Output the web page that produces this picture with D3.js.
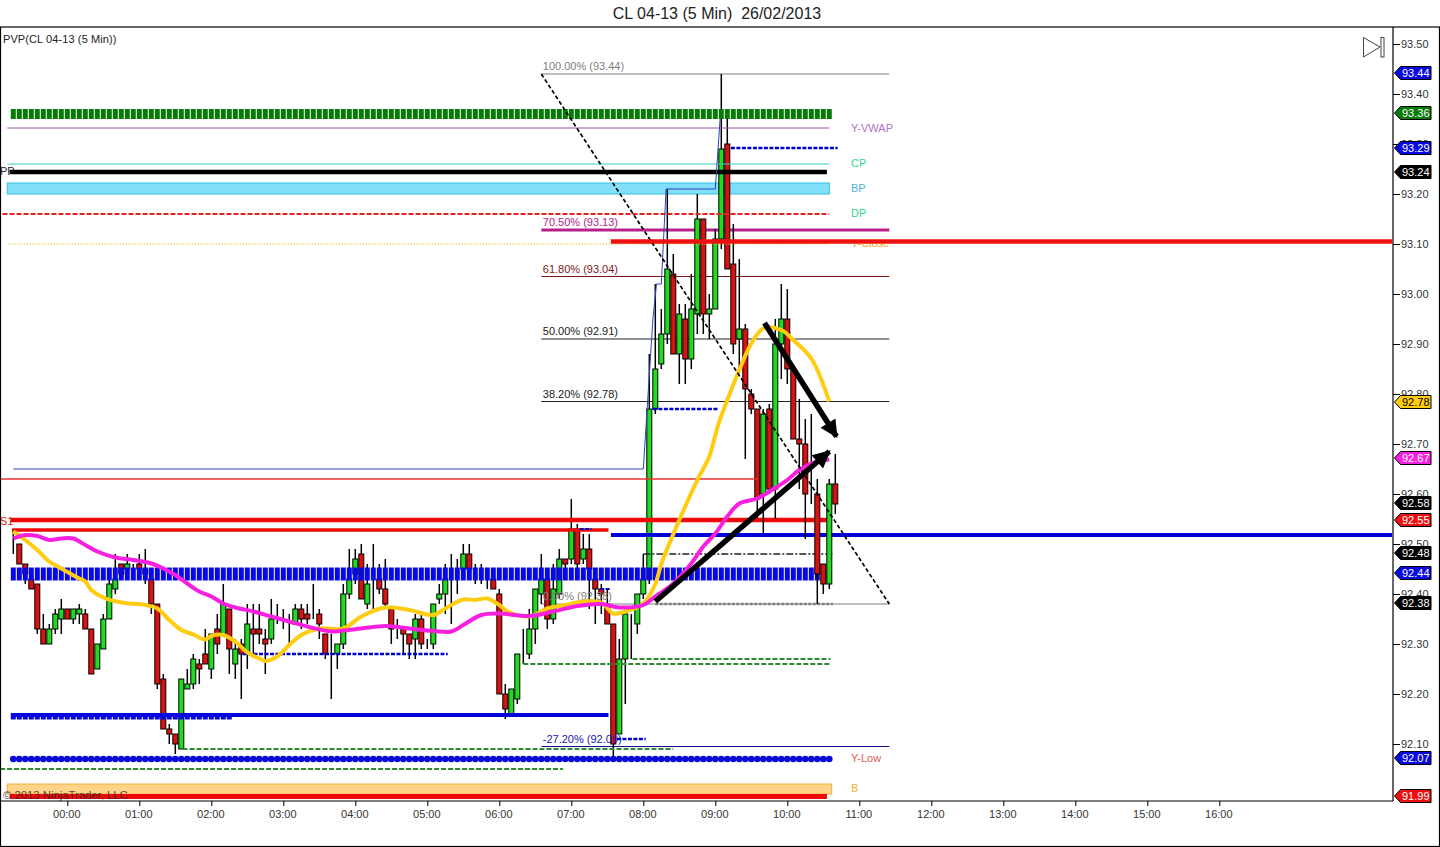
<!DOCTYPE html>
<html>
<head>
<meta charset="UTF-8">
<title>CL 04-13 (5 Min)</title>
<script src="https://d3js.org/d3.v7.min.js"></script>
<style>
  html, body { margin: 0; padding: 0; background: #fff; overflow: hidden; }
  svg { display: block; }
  text { font-family: "Liberation Sans", Arial, sans-serif; font-size: 11px; }
  .axis text { fill: #333; font-size: 11px; }
  .axis line { stroke: #000; }
  .axis path { display: none; }
</style>
</head>
<body>
<svg width="1440" height="847"></svg>
<script>
// one value per 5 min bar, first bar is 23:15
var firstBar = -45;
var barOpen = [92.51,92.50,92.46,92.43,92.42,92.33,92.30,92.33,92.35,92.37,
  92.35,92.36,92.36,92.33,92.25,92.29,92.35,92.41,92.46,92.45,
  92.45,92.46,92.45,92.43,92.38,92.23,92.13,92.12,92.09,92.21,
  92.22,92.26,92.28,92.25,92.33,92.32,92.37,92.26,92.30,92.28,
  92.33,92.33,92.31,92.31,92.36,92.35,92.33,92.34,92.37,92.36,
  92.37,92.36,92.32,92.31,92.28,92.30,92.40,92.44,92.48,92.38,
  92.44,92.43,92.41,92.37,92.32,92.33,92.32,92.31,92.35,92.31,
  92.30,92.39,92.40,92.42,92.44,92.45,92.48,92.44,92.44,92.43,
  92.43,92.40,92.20,92.16,92.19,92.28,92.28,92.33,92.40,92.43,
  92.35,92.40,92.47,92.47,92.53,92.47,92.49,92.43,92.41,92.38,
  92.34,92.12,92.27,92.35,92.34,92.40,92.43,92.77,92.86,92.92,
  93.04,92.88,92.95,92.87,92.96,93.15,92.96,92.97,93.11,93.30,
  93.06,92.91,92.93,92.80,92.77,92.60,92.77,92.61,92.90,92.95,
  92.85,92.71,92.70,92.63,92.60,92.46,92.42,92.62];
var barHigh = [92.53,92.50,92.46,92.44,92.42,92.36,92.34,92.37,92.39,92.37,
  92.37,92.38,92.37,92.33,92.30,92.36,92.43,92.48,92.46,92.48,
  92.46,92.48,92.49,92.43,92.38,92.24,92.14,92.12,92.23,92.25,
  92.28,92.27,92.33,92.32,92.36,92.42,92.37,92.31,92.31,92.38,
  92.38,92.38,92.33,92.39,92.38,92.37,92.36,92.38,92.38,92.38,
  92.42,92.37,92.32,92.32,92.30,92.42,92.49,92.49,92.50,92.46,
  92.50,92.46,92.47,92.37,92.35,92.33,92.32,92.36,92.36,92.31,
  92.38,92.42,92.46,92.48,92.47,92.50,92.50,92.46,92.46,92.45,
  92.45,92.41,92.22,92.21,92.28,92.33,92.37,92.41,92.48,92.43,
  92.46,92.49,92.47,92.59,92.54,92.52,92.52,92.44,92.42,92.41,
  92.34,92.31,92.36,92.36,92.40,92.48,92.88,93.02,92.97,93.21,
  93.08,92.98,92.98,93.04,93.20,93.15,93.00,93.13,93.44,93.35,
  93.14,93.07,92.94,92.81,92.77,92.77,92.78,92.95,93.02,93.01,
  92.86,92.79,92.75,92.76,92.63,92.46,92.63,92.68];
var barLow = [92.48,92.46,92.42,92.41,92.32,92.30,92.30,92.32,92.32,92.35,
  92.34,92.34,92.33,92.24,92.25,92.29,92.35,92.40,92.43,92.44,
  92.44,92.44,92.42,92.36,92.21,92.13,92.10,92.08,92.09,92.21,
  92.21,92.22,92.26,92.23,92.28,92.32,92.24,92.23,92.19,92.25,
  92.28,92.30,92.24,92.30,92.34,92.33,92.30,92.34,92.33,92.34,
  92.35,92.31,92.27,92.19,92.25,92.29,92.39,92.42,92.39,92.37,
  92.37,92.40,92.37,92.30,92.31,92.28,92.27,92.27,92.29,92.29,
  92.29,92.38,92.36,92.34,92.40,92.44,92.44,92.42,92.42,92.41,
  92.41,92.20,92.15,92.16,92.18,92.26,92.27,92.30,92.38,92.33,
  92.34,92.39,92.45,92.46,92.45,92.46,92.37,92.34,92.36,92.34,
  92.07,92.12,92.18,92.27,92.32,92.39,92.42,92.76,92.85,92.90,
  92.88,92.82,92.82,92.85,92.92,92.92,92.91,92.97,93.09,93.05,
  92.88,92.84,92.67,92.76,92.55,92.52,92.60,92.55,92.83,92.82,
  92.71,92.61,92.51,92.58,92.38,92.40,92.41,92.56];
var barClose = [92.51,92.46,92.44,92.41,92.33,92.30,92.33,92.36,92.37,92.35,
  92.37,92.37,92.33,92.24,92.30,92.35,92.42,92.43,92.44,92.46,
  92.45,92.45,92.44,92.38,92.22,92.13,92.12,92.10,92.23,92.22,
  92.27,92.25,92.26,92.32,92.30,92.38,92.29,92.29,92.28,92.34,
  92.32,92.32,92.30,92.35,92.36,92.35,92.33,92.37,92.35,92.35,
  92.37,92.34,92.28,92.31,92.30,92.40,92.43,92.47,92.39,92.42,
  92.44,92.41,92.38,92.33,92.32,92.32,92.30,92.35,92.30,92.31,
  92.38,92.40,92.43,92.42,92.44,92.48,92.45,92.44,92.44,92.43,
  92.41,92.20,92.17,92.21,92.28,92.28,92.33,92.41,92.43,92.35,
  92.41,92.47,92.46,92.53,92.46,92.49,92.45,92.41,92.40,92.34,
  92.10,92.27,92.36,92.35,92.40,92.43,92.77,92.85,92.92,93.05,
  92.88,92.96,92.87,92.97,93.15,92.96,92.97,93.11,93.29,93.05,
  92.90,92.93,92.81,92.77,92.59,92.76,92.61,92.90,92.95,92.85,
  92.71,92.70,92.60,92.63,92.44,92.42,92.62,92.58];

var yellowTimes = [-45,-35,-25,-15,-5,10,15,20,30,45,65,75,85,95,105,115,120,130,140,150,160,165,175,185,195,210,230,245,265,285,305,315,330,340,350,360,367,385,400,415,430,445,455,465,480,490,495,510,525,535,542,550,560,570,580,595,605,620,635];
var yellowPrices = [92.525,92.508,92.488,92.465,92.451,92.431,92.425,92.408,92.393,92.383,92.378,92.371,92.348,92.328,92.319,92.309,92.316,92.318,92.305,92.283,92.271,92.266,92.275,92.298,92.318,92.331,92.331,92.355,92.373,92.368,92.358,92.371,92.389,92.388,92.391,92.378,92.365,92.355,92.371,92.378,92.385,92.383,92.361,92.365,92.381,92.42,92.46,92.548,92.628,92.675,92.735,92.788,92.848,92.901,92.931,92.928,92.908,92.871,92.785];
var magentaTimes = [-45,-35,-25,-15,-5,5,15,25,40,55,70,80,90,100,110,120,130,140,155,170,185,200,220,230,245,265,285,305,320,330,345,360,385,405,425,445,460,480,490,505,520,530,540,550,560,575,585,600,610,625,635];
var magentaPrices = [92.511,92.518,92.516,92.508,92.511,92.511,92.498,92.485,92.473,92.468,92.461,92.451,92.438,92.421,92.405,92.395,92.381,92.373,92.365,92.355,92.345,92.335,92.325,92.327,92.331,92.336,92.331,92.326,92.325,92.338,92.358,92.361,92.356,92.365,92.376,92.38,92.373,92.378,92.395,92.421,92.461,92.495,92.521,92.555,92.581,92.591,92.605,92.628,92.648,92.665,92.669];

// horizontal levels: name, price, start and end minute
var levelNames = ["yVwap","dash9329","cp","pp","dp","yClose","redClose","redThin","s1","s1b","blue9252","dash9253","dash9241","chain","dots0","dash9277","dash9228","green9227","green9226","dash9211","blue9216","green9209","green9205","red9199"];
var levelPrices = [93.332,93.292,93.26,93.244,93.16,93.10,93.105,92.63,92.548,92.528,92.518,92.53,92.41,92.48,92.38,92.77,92.28,92.27,92.26,92.11,92.158,92.09,92.05,91.995];
var levelStart = [-50,553,-50,-48,-54,-49,453,-56,-47,-46,453,427,444,480,490,488,146,471,380,458,-47,96,-56,-48];
var levelEnd = [635,642,635,633,635,636,1104,575,633,451,1104,437,452,638,638,542,317,636,636,482,451,505,413,633];

// shaded bands: top price, bottom price
var bandNames = ["BP","B"];
var bandTop = [93.222,92.02];
var bandBottom = [93.20,92.00];
var bandStart = [-50,-50];
var bandEnd = [635,637];

// fibonacci retracement
var fibNames = ["100.00% (93.44)","70.50% (93.13)","61.80% (93.04)","50.00% (92.91)","38.20% (92.78)","0.00% (92.38)","-27.20% (92.09)"];
var fibPrices = [93.44,93.128,93.035,92.91,92.785,92.38,92.095];
var fibStart = 395, fibEnd = 685;

// right side text labels
var sideNames = ["Y-VWAP","CP","BP","DP","Y-Close","Y-Low","B"];
var sidePrices = [93.332,93.262,93.212,93.162,93.102,92.072,92.012];

// price markers on the axis
var markerLabels = ["93.44","93.36","93.29","93.24","92.78","92.67","92.58","92.55","92.48","92.44","92.38","92.07","91.99"];
var markerPrices = [93.442,93.362,93.292,93.244,92.784,92.672,92.582,92.548,92.482,92.442,92.382,92.072,91.996];
var priceTicks = [93.5,93.4,93.3,93.2,93.1,93.0,92.9,92.8,92.7,92.6,92.5,92.4,92.3,92.2,92.1];
var timeTicks = [0,60,120,180,240,300,360,420,480,540,600,660,720,780,840,900,960];

// drawn by hand on the chart: time, price
var trendTimes = [395,685], trendPrices = [93.44,92.38];
var arrowUpTimes = [490,635], arrowUpPrices = [92.385,92.685];
var arrowDownTimes = [581,641], arrowDownPrices = [92.942,92.715];
var stepTimes = [-45,480,488,491,495,499,540,544], stepPrices = [92.65,92.65,92.95,93.02,93.02,93.21,93.21,93.35];

var x = d3.scaleLinear().domain([0,960]).range([67.3,1219.3]);
var y = d3.scaleLinear().domain([93.5,91.986]).range([44,801]);

var svg = d3.select("svg");
var plot = svg.append("g");

var bars = barOpen.map(function(o,i){
  return {t:firstBar+i*5, o:o, h:barHigh[i], l:barLow[i], c:barClose[i]};
});

// frame
svg.append("rect").attr("x",0.5).attr("y",27).attr("width",1439).attr("height",819.5)
  .attr("fill","none").attr("stroke","#000").attr("stroke-width",1.2);
svg.append("line").attr("x1",1393).attr("x2",1393).attr("y1",27).attr("y2",801).attr("stroke","#000").attr("stroke-width",1.2);
svg.append("line").attr("x1",0).attr("x2",1393).attr("y1",801).attr("y2",801).attr("stroke","#000").attr("stroke-width",1.2);

// axes
var yAxis = d3.axisRight(y).tickValues(priceTicks).tickSize(7).tickPadding(1).tickFormat(d3.format(".2f"));
svg.append("g").classed("axis",true).attr("transform","translate(1393,0)").call(yAxis);
var xAxis = d3.axisBottom(x).tickValues(timeTicks).tickSize(5).tickPadding(4).tickFormat(function(d){
  return d3.format("02")(d/60)+":00";
});
var xAxisG = svg.append("g").classed("axis",true).attr("transform","translate(0,801)").call(xAxis);
xAxisG.selectAll("text").attr("dx",-1);

// bands go under the candles
var bandFill = {BP:"#80e0fc", B:"#ffd488"};
var bandLine = {BP:"#30c4dc", B:"#f0b040"};
plot.selectAll("rect.band").data(bandNames).enter().append("rect")
  .classed("band",true)
  .attr("x",function(d,i){return x(bandStart[i]);})
  .attr("width",function(d,i){return x(bandEnd[i])-x(bandStart[i]);})
  .attr("y",function(d,i){return y(bandTop[i]);})
  .attr("height",function(d,i){return y(bandBottom[i])-y(bandTop[i]);})
  .attr("fill",function(d){return bandFill[d];})
  .attr("stroke",function(d){return bandLine[d];});

// fib lines under the candles as well
var fibColors = ["#808080","#b8208a","#801818","#222","#222","#808080","#101080"];
var fibWidths = [1,3,1,1,1,1,1];
plot.selectAll("line.fib").data(fibNames).enter().append("line")
  .classed("fib",true)
  .attr("x1",x(fibStart)).attr("x2",x(fibEnd))
  .attr("y1",function(d,i){return y(fibPrices[i]);})
  .attr("y2",function(d,i){return y(fibPrices[i]);})
  .attr("stroke",function(d,i){return fibColors[i];})
  .attr("stroke-width",function(d,i){return fibWidths[i];});

var drawCandles = function(list){
  var candle = plot.append("g").selectAll("g").data(list).enter().append("g");
  candle.append("line")
    .attr("x1",function(d){return x(d.t);}).attr("x2",function(d){return x(d.t);})
    .attr("y1",function(d){return y(d.h);}).attr("y2",function(d){return y(d.l);})
    .attr("stroke","#000").attr("stroke-width",1.5);
  candle.append("rect")
    .attr("x",function(d){return x(d.t)-2.5;})
    .attr("width",5)
    .attr("y",function(d){return y(Math.max(d.o,d.c));})
    .attr("height",function(d){return Math.abs(y(d.o)-y(d.c));})
    .attr("fill",function(d){return d.c>=d.o ? "#1fdc1f" : "#dc1010";})
    .attr("stroke","#000").attr("stroke-width",1);
};
drawCandles(bars.filter(function(d){return d.t<580;}));

// fib labels sit over the candles
var fibTextColors = ["#808080","#b8208a","#801818","#222","#222","#808080","#2020b0"];
plot.selectAll("text.fib").data(fibNames).enter().append("text")
  .classed("fib",true)
  .attr("x",x(fibStart)+1.5)
  .attr("y",function(d,i){return y(fibPrices[i])-4;})
  .attr("fill",function(d,i){return fibTextColors[i];})
  .text(function(d){return d;});

// thin levels and heavy levels
var levelStyles = {
  yVwap:{c:"#a050b0",w:1}, dash9329:{c:"#0000cc",w:2.5,d:"4,1.5"}, cp:{c:"#30d0c0",w:1},
  pp:{c:"#000",w:4.5}, dp:{c:"#e82020",w:2,d:"5,2"}, yClose:{c:"#e8d020",w:1,d:"1.5,1.5"},
  redClose:{c:"#ee1010",w:4}, redThin:{c:"#e83030",w:1.5}, s1:{c:"#ee0808",w:4.5}, s1b:{c:"#ee0808",w:3.5},
  blue9252:{c:"#0000d8",w:4}, dash9253:{c:"#0000cc",w:2,d:"4,1.5"}, dash9241:{c:"#0000cc",w:2,d:"4,1.5"},
  chain:{c:"#222",w:1.7,d:"7,2,2,2"}, dots0:{c:"#808080",w:2.5,d:"3,1.5"}, dash9277:{c:"#0000cc",w:2.5,d:"4,1.5"},
  dash9228:{c:"#0000cc",w:2.5,d:"4,1.5"}, green9227:{c:"#2f8a2f",w:2,d:"5,2"}, green9226:{c:"#2f8a2f",w:2,d:"5,2"},
  dash9211:{c:"#0000cc",w:2.5,d:"4,1.5"}, blue9216:{c:"#0000d8",w:4}, green9209:{c:"#2f8a2f",w:2,d:"5,2"},
  green9205:{c:"#2f8a2f",w:2,d:"5,2"}, red9199:{c:"#ee0808",w:5}
};
plot.selectAll("line.level").data(levelNames).enter().append("line")
  .classed("level",true)
  .attr("x1",function(d,i){return x(levelStart[i]);})
  .attr("x2",function(d,i){return x(levelEnd[i]);})
  .attr("y1",function(d,i){return y(levelPrices[i]);})
  .attr("y2",function(d,i){return y(levelPrices[i]);})
  .attr("stroke",function(d){return levelStyles[d].c;})
  .attr("stroke-width",function(d){return levelStyles[d].w;})
  .attr("stroke-dasharray",function(d){return levelStyles[d].d || null;});

// rows of blocks, one per bar
var blockBars = bars.filter(function(d){return d.t<640;});
var drawBlocks = function(list,price,h,color){
  plot.append("g").selectAll("rect").data(list).enter().append("rect")
    .attr("x",function(d){return x(d.t)-2.5;})
    .attr("width",5)
    .attr("y",y(price)-h/2)
    .attr("height",h)
    .attr("fill",color);
};
drawBlocks(blockBars,93.36,10,"#087a08");
drawBlocks(blockBars,92.44,13,"#0808e8");
drawBlocks(bars.filter(function(d){return d.t<=135;}),92.155,6,"#0808e0");

plot.append("g").selectAll("circle").data(blockBars).enter().append("circle")
  .attr("cx",function(d){return x(d.t);})
  .attr("cy",y(92.07))
  .attr("r",3.3)
  .attr("fill","#0808d8");

drawCandles(bars.filter(function(d){return d.t>=580;}));

// thin stepped line
var line = d3.line().x(function(d){return x(d[0]);}).y(function(d){return y(d[1]);});
plot.append("path").attr("d",line(d3.zip(stepTimes,stepPrices)))
  .attr("fill","none").attr("stroke","#3040c0").attr("stroke-width",1);

// moving averages
var curve = d3.line().x(function(d){return x(d[0]);}).y(function(d){return y(d[1]);}).curve(d3.curveCatmullRom.alpha(0.5));
plot.append("path").attr("d",curve(d3.zip(yellowTimes,yellowPrices)))
  .attr("fill","none").attr("stroke","#ffcc10").attr("stroke-width",4);
plot.append("path").attr("d",curve(d3.zip(magentaTimes,magentaPrices)))
  .attr("fill","none").attr("stroke","#f820e0").attr("stroke-width",4);

// trend line and arrows
plot.append("path").attr("d",line(d3.zip(trendTimes,trendPrices)))
  .attr("fill","none").attr("stroke","#000").attr("stroke-width",1.7).attr("stroke-dasharray","4,2.5");

svg.append("defs").append("marker").attr("id","head")
  .attr("viewBox","0 0 10 10").attr("refX",9).attr("refY",5)
  .attr("markerWidth",3.6).attr("markerHeight",3.2).attr("orient","auto")
  .append("path").attr("d","M0,0L10,5L0,10z").attr("fill","#000");
[[arrowUpTimes,arrowUpPrices],[arrowDownTimes,arrowDownPrices]].forEach(function(a){
  plot.append("path").attr("d",line(d3.zip(a[0],a[1])))
    .attr("fill","none").attr("stroke","#000").attr("stroke-width",5.5)
    .attr("marker-end","url(#head)");
});

// side labels
var sideColors = ["#b070c8","#30d890","#50b0e0","#30d890","#f0a020","#e06050","#f0b040"];
svg.selectAll("text.side").data(sideNames).enter().append("text")
  .classed("side",true)
  .attr("x",851)
  .attr("y",function(d,i){return y(sidePrices[i])+4;})
  .attr("fill",function(d,i){return sideColors[i];})
  .text(function(d){return d;});
// Y-Close sits under the red line
svg.append("line").attr("x1",x(453)).attr("x2",x(1104)).attr("y1",y(93.105)).attr("y2",y(93.105))
  .attr("stroke","#ee1010").attr("stroke-width",4);

svg.append("text").attr("x",0).attr("y",175).attr("fill","#222").text("PP");
svg.append("text").attr("x",0).attr("y",525).attr("fill","#d82020").text("S1");

// price markers
var markerFill = ["#0808e0","#087a08","#0808e0","#000","#ffcc10","#f820e0","#000","#ee1010","#000","#0808e0","#000","#0808e0","#ee1010"];
var marker = svg.append("g").selectAll("g").data(markerPrices).enter().append("g")
  .attr("transform",function(d){return "translate(1394,"+y(d)+")";});
marker.append("path")
  .attr("d","M0.5,0L6.5,-6.5L37,-6.5L37,6.5L6.5,6.5Z")
  .attr("fill",function(d,i){return markerFill[i];})
  .attr("stroke","#000");
marker.append("text")
  .attr("x",8).attr("y",4)
  .attr("fill",function(d,i){return markerFill[i]=="#ffcc10" ? "#000" : "#fff";})
  .text(function(d,i){return markerLabels[i];});

// end of chart icon
var icon = svg.append("g").attr("fill","#fff").attr("stroke","#444");
icon.append("path").attr("d","M1363.5,37.5L1380,47L1363.5,57Z");
icon.append("rect").attr("x",1381).attr("y",37.5).attr("width",3).attr("height",19.5);

// titles
svg.append("text").attr("x",717).attr("y",18.5).attr("text-anchor","middle")
  .style("font-size","16px").style("white-space","pre").attr("fill","#222")
  .text("CL 04-13 (5 Min)  26/02/2013");
svg.append("text").attr("x",3).attr("y",43).style("letter-spacing","0.1px").attr("fill","#222").text("PVP(CL 04-13 (5 Min))");
svg.append("text").attr("x",3).attr("y",799).style("font-size","11.3px").attr("fill","#222").attr("fill-opacity",0.8)
  .text("© 2013 NinjaTrader, LLC");
</script>
</body>
</html>
